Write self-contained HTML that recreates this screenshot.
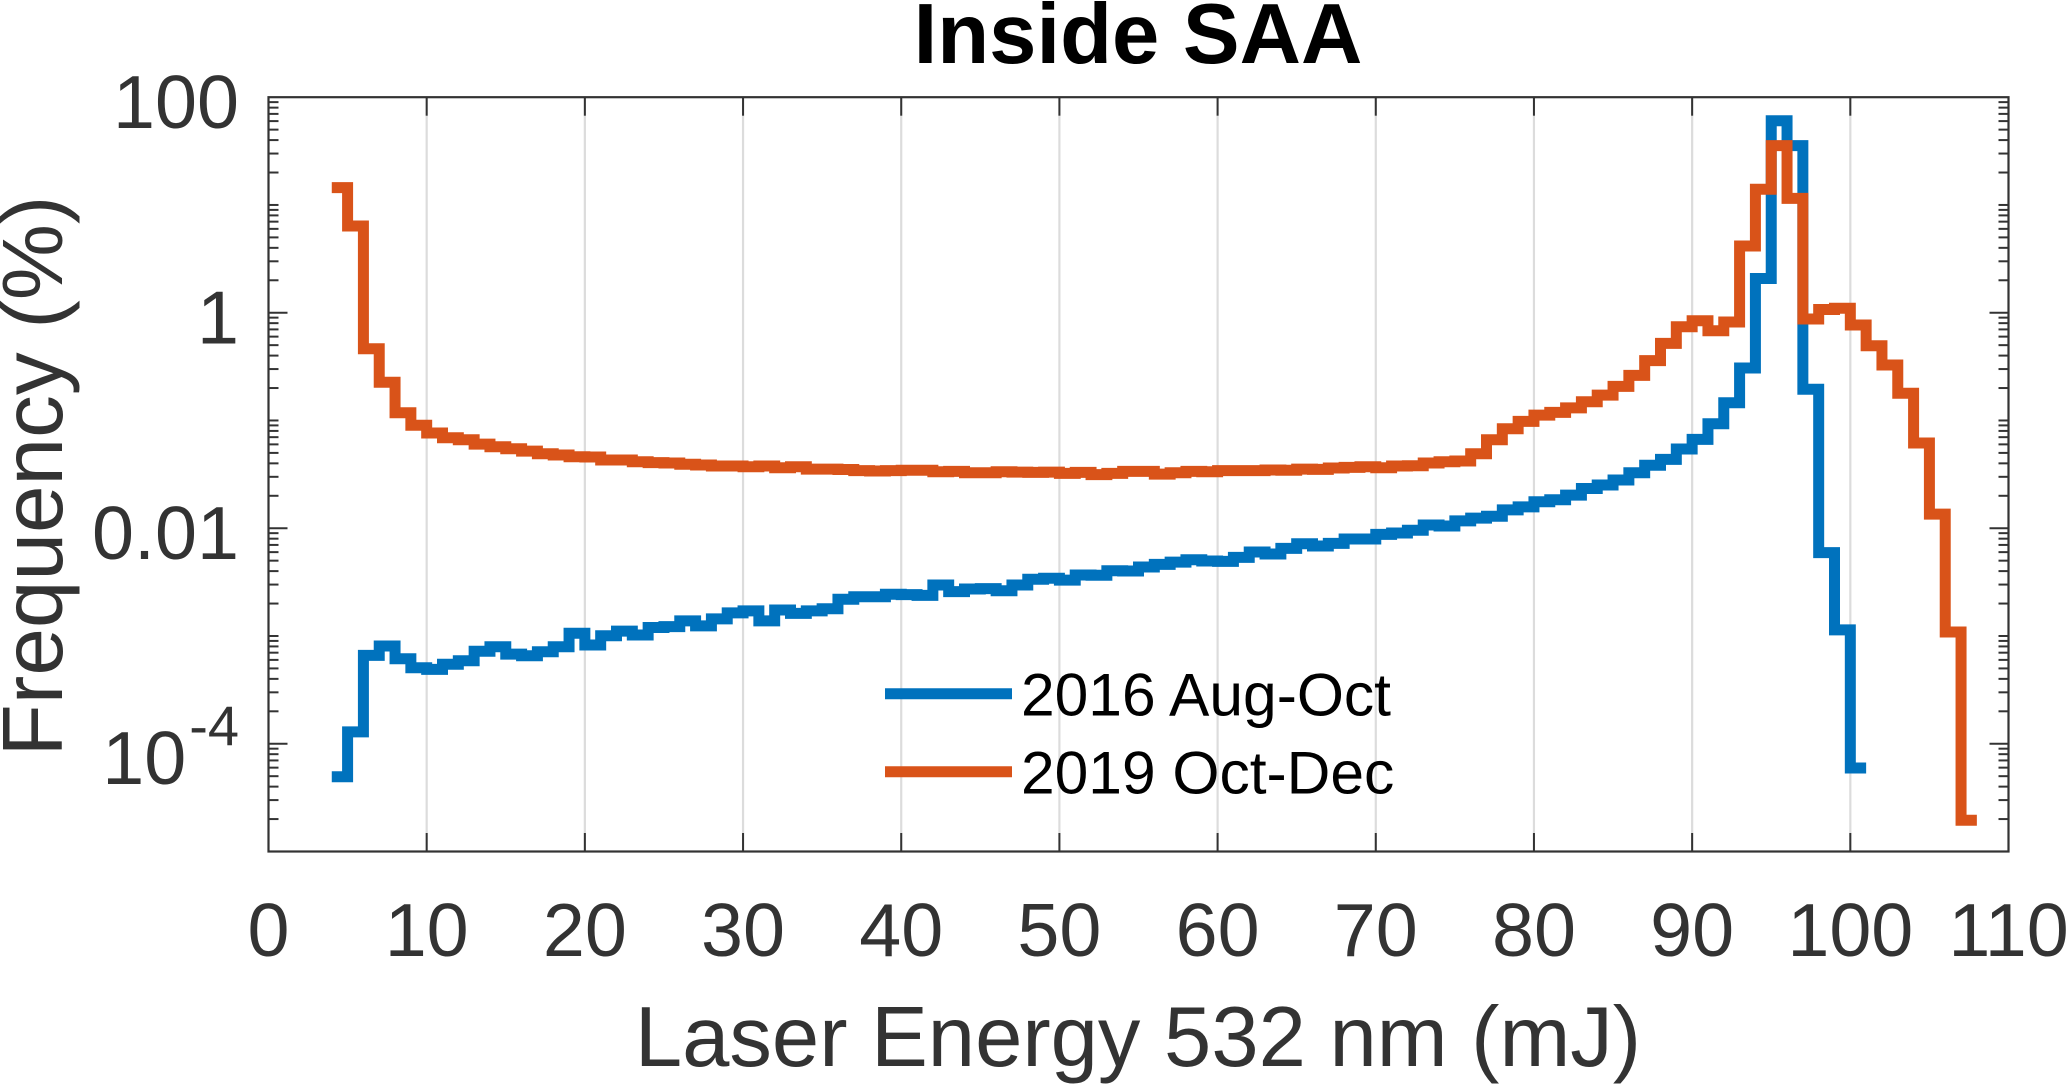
<!DOCTYPE html>
<html lang="en">
<head>
<meta charset="utf-8">
<title>Inside SAA</title>
<style>
  html, body { margin: 0; padding: 0; background: #fff; }
  body { width: 2067px; height: 1084px; overflow: hidden; }
  svg { display: block; }
  text { font-family: "Liberation Sans", Arial, sans-serif; }
</style>
</head>
<body>
<svg id="chart" xmlns="http://www.w3.org/2000/svg" width="2067" height="1084" viewBox="0 0 2067 1084">
  <rect x="0" y="0" width="2067" height="1084" fill="#ffffff"/>
  <text x="1138" y="63" font-size="85" font-weight="bold" fill="#000000" text-anchor="middle">Inside SAA</text>
  <text x="1138" y="1066" font-size="85" fill="#333333" text-anchor="middle">Laser Energy 532 nm (mJ)</text>
  <text transform="translate(62,476) rotate(-90)" font-size="85.5" fill="#333333" text-anchor="middle">Frequency (%)</text>
  <g id="grid"></g>
  <g id="series"></g>
  <g id="axes"></g>
  <g id="labels"></g>
  <g id="legend"></g>
</svg>
<script>
// ---- chart data (frequency in %, per 1 mJ bin) ----
const firstBinEnergy = 4;
const binWidth = 1;
const freq2016 = [
  4.94e-5, 1.29e-4, 6.61e-4, 8.07e-4, 6.15e-4, 5.07e-4, 4.90e-4, 5.46e-4, 5.89e-4, 7.21e-4,
  7.94e-4, 6.79e-4, 6.56e-4, 7.14e-4, 7.94e-4, 1.06e-3, 8.24e-4, 1.005e-3, 1.11e-3, 1.02e-3,
  1.20e-3, 1.22e-3, 1.38e-3, 1.24e-3, 1.44e-3, 1.64e-3, 1.71e-3, 1.38e-3, 1.74e-3, 1.62e-3,
  1.71e-3, 1.79e-3, 2.19e-3, 2.31e-3, 2.31e-3, 2.44e-3, 2.42e-3, 2.38e-3, 2.97e-3, 2.58e-3,
  2.73e-3, 2.75e-3, 2.63e-3, 2.97e-3, 3.36e-3, 3.43e-3, 3.30e-3, 3.68e-3, 3.66e-3, 4.03e-3,
  4.01e-3, 4.37e-3, 4.62e-3, 4.85e-3, 5.10e-3, 4.96e-3, 4.93e-3, 5.37e-3, 6.01e-3, 5.77e-3,
  6.50e-3, 7.18e-3, 6.84e-3, 7.24e-3, 7.94e-3, 7.94e-3, 8.78e-3, 9.02e-3, 9.57e-3, 0.0107,
  0.0105, 0.0117, 0.0124, 0.0129, 0.0148, 0.0158, 0.0176, 0.0184, 0.0203, 0.0234,
  0.0252, 0.0280, 0.0327, 0.0384, 0.0436, 0.0543, 0.0668, 0.0933, 0.146, 0.307,
  2.08, 60.5, 35.5, 0.195, 5.93e-3, 1.14e-3, 5.95e-5
];
const freq2019 = [
  14.5, 6.38, 0.463, 0.226, 0.118, 0.0902, 0.0765, 0.0692, 0.0662, 0.0604,
  0.0570, 0.0547, 0.0520, 0.0491, 0.0478, 0.0461, 0.0458, 0.0430, 0.0430, 0.0414,
  0.0406, 0.0403, 0.0392, 0.0386, 0.0378, 0.0378, 0.0372, 0.0378, 0.0364, 0.0372,
  0.0354, 0.0354, 0.0351, 0.0342, 0.0340, 0.0342, 0.0345, 0.0345, 0.0334, 0.0337,
  0.0327, 0.0327, 0.0334, 0.0332, 0.0330, 0.0332, 0.0323, 0.0330, 0.0314, 0.0323,
  0.0337, 0.0337, 0.0318, 0.0327, 0.0337, 0.0334, 0.0342, 0.0342, 0.0342, 0.0347,
  0.0345, 0.0354, 0.0352, 0.0362, 0.0367, 0.0372, 0.0364, 0.0378, 0.0380, 0.0403,
  0.0414, 0.0421, 0.0491, 0.0662, 0.0838, 0.0982, 0.112, 0.119, 0.131, 0.149,
  0.172, 0.207, 0.262, 0.359, 0.520, 0.741, 0.843, 0.681, 0.820, 4.16,
  14.0, 35.5, 11.5, 0.875, 1.07, 1.10, 0.769, 0.494, 0.327, 0.179,
  0.0618, 0.0135, 1.09e-3, 1.95e-5
];
const xTickValues = [0, 10, 20, 30, 40, 50, 60, 70, 80, 90, 100, 110];
const xTickLabels = ["0", "10", "20", "30", "40", "50", "60", "70", "80", "90", "100", "110"];
const yTickValues = [100, 1, 0.01, 0.0001];
const yTickLabels = ["100", "1", "0.01", "10"];
const yTickExponents = ["", "", "", "-4"];
const legendLabels = ["2016 Aug-Oct", "2019 Oct-Dec"];

// ---- layout ----
const plot = { left: 268.5, right: 2008.5, top: 97.2, bottom: 851.5 };
const xDomain = [0, 110];
const yDomainLog = [-5, 2];
const colors = { s2016: "#0072BD", s2019: "#D95319", axis: "#333333", grid: "#dcdcdc" };

function xScale(v) {
  return plot.left + (v - xDomain[0]) / (xDomain[1] - xDomain[0]) * (plot.right - plot.left);
}
function yScale(v) {
  const l = Math.log10(v);
  return plot.bottom - (l - yDomainLog[0]) / (yDomainLog[1] - yDomainLog[0]) * (plot.bottom - plot.top);
}
function mk(tag, attrs, parent) {
  const el = document.createElementNS("http://www.w3.org/2000/svg", tag);
  for (const k in attrs) el.setAttribute(k, attrs[k]);
  parent.appendChild(el);
  return el;
}
function stairPath(values) {
  let d = "";
  values.forEach(function (v, i) {
    const x0 = xScale(firstBinEnergy + i * binWidth);
    const x1 = xScale(firstBinEnergy + (i + 1) * binWidth);
    const y = yScale(v);
    d += (i === 0 ? "M" : "L") + x0.toFixed(2) + " " + y.toFixed(2) + "L" + x1.toFixed(2) + " " + y.toFixed(2);
  });
  return d;
}

const gridG = document.getElementById("grid");
const seriesG = document.getElementById("series");
const axesG = document.getElementById("axes");
const labelsG = document.getElementById("labels");
const legendG = document.getElementById("legend");

// gridlines
xTickValues.forEach(function (v) {
  if (v === xDomain[0] || v === xDomain[1]) return;
  const line = mk("line", { x1: xScale(v), x2: xScale(v), y1: plot.top, y2: plot.bottom, stroke: colors.grid, "stroke-width": 2.2 }, gridG);
  
  
});

// series
const path2016 = mk("path", { d: stairPath(freq2016), fill: "none", stroke: colors.s2016, "stroke-width": 11, "stroke-linejoin": "miter", "stroke-miterlimit": 10 }, seriesG);


const path2019 = mk("path", { d: stairPath(freq2019), fill: "none", stroke: colors.s2019, "stroke-width": 11, "stroke-linejoin": "miter", "stroke-miterlimit": 10 }, seriesG);



// frame
const frame = mk("rect", { x: plot.left, y: plot.top, width: plot.right - plot.left, height: plot.bottom - plot.top, fill: "none", stroke: colors.axis, "stroke-width": 2.2 }, axesG);



// x ticks (bottom and top)
xTickValues.forEach(function (v) {
  if (v === xDomain[0] || v === xDomain[1]) return;
  const x = xScale(v);
  const tb = mk("line", { x1: x, x2: x, y1: plot.bottom, y2: plot.bottom - 18.5, stroke: colors.axis, "stroke-width": 2 }, axesG);
  
  
  const tt = mk("line", { x1: x, x2: x, y1: plot.top, y2: plot.top + 18.5, stroke: colors.axis, "stroke-width": 2 }, axesG);
  
  
});

// y ticks (left and right), log minor ticks for every decade
for (let dec = yDomainLog[0]; dec < yDomainLog[1]; dec++) {
  for (let m = 1; m <= 9; m++) {
    const isMajor = m === 1 && (dec === 0 || dec === -2 || dec === -4);
    const y = yScale(m * Math.pow(10, dec));
    const len = isMajor ? 19 : 10;
    const tl = mk("line", { x1: plot.left, x2: plot.left + len, y1: y, y2: y, stroke: colors.axis, "stroke-width": 2 }, axesG);
    
    
    const tr = mk("line", { x1: plot.right, x2: plot.right - len, y1: y, y2: y, stroke: colors.axis, "stroke-width": 2 }, axesG);
    
    
  }
}

// x tick labels
xTickValues.forEach(function (v, i) {
  const t = mk("text", { x: xScale(v), y: 956, "font-size": 75.5, fill: colors.axis, "text-anchor": "middle" }, labelsG);
  
  
  t.textContent = xTickLabels[i];
});

// y tick labels
yTickValues.forEach(function (v, i) {
  const hasExp = yTickExponents[i] !== "";
  const t = mk("text", { x: 239, y: yScale(v) + (hasExp ? 40.3 : 30.6), "font-size": 75.5, fill: colors.axis, "text-anchor": "end" }, labelsG);
  
  
  t.textContent = yTickLabels[i];
  if (hasExp) {
    const sup = mk("tspan", { "font-size": 56, dy: -39, dx: 3 }, t);
    
    
    sup.textContent = yTickExponents[i];
  }
});

// legend
const legendSwatchColors = [colors.s2016, colors.s2019];
const legendRowY = [693.7, 771.7];
legendLabels.forEach(function (label, i) {
  const l = mk("line", { x1: 885, x2: 1012, y1: legendRowY[i], y2: legendRowY[i], stroke: legendSwatchColors[i], "stroke-width": 11 }, legendG);
  
  
  const t = mk("text", { x: 1021, y: legendRowY[i] + 22, "font-size": 60.5, fill: "#000000" }, legendG);
  
  
  t.textContent = label;
});
</script>
</body>
</html>
